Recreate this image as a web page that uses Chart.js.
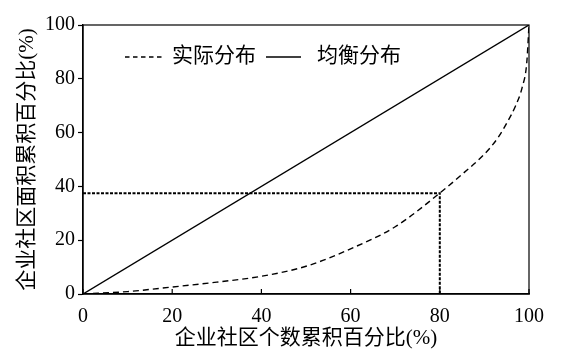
<!DOCTYPE html>
<html>
<head>
<meta charset="utf-8">
<script src="https://cdn.jsdelivr.net/npm/chart.js@4/dist/chart.umd.min.js"></script>
<style>
  html, body { margin: 0; padding: 0; background: #fff; }
  #wrap { width: 565px; height: 361px; }
</style>
</head>
<body>
<div id="wrap"><canvas id="myChart" width="565" height="361"></canvas></div>
<script>
// data
const actualX = [0, 10, 20, 30, 40, 50, 60, 70, 80, 85, 90, 93, 95, 97, 98.5, 99.5, 100];
const actualY = [0, 0.9, 2.6, 4.4, 6.6, 10.3, 16.8, 25, 37.5, 44.5, 52, 58, 63.5, 70, 77, 86, 100];
const equalX = [0, 100];
const equalY = [0, 100];
const markX = [0, 80, 80];
const markY = [37.5, 37.5, 0];
const xTicks = [0, 20, 40, 60, 80, 100];
const yTicks = [0, 20, 40, 60, 80, 100];
const legendLabels = ['实际分布', '均衡分布'];

const toPoints = (xs, ys) => xs.map((x, i) => ({ x: x, y: ys[i] }));

const serif = '"Liberation Serif", "Noto Sans CJK SC", serif';

//setup
const data = {
  datasets: [
    {
      label: legendLabels[0],
      data: toPoints(actualX, actualY),
      borderColor: '#000',
      borderWidth: 1.4,
      borderDash: [6, 4],
      cubicInterpolationMode: 'monotone',
      pointRadius: 0,
      showLine: true,
    },
    {
      label: legendLabels[1],
      data: toPoints(equalX, equalY),
      borderColor: '#000',
      borderWidth: 1.4,
      pointRadius: 0,
      showLine: true,
    },
    {
      label: 'mark',
      data: toPoints(markX, markY),
      borderColor: '#000',
      borderWidth: 2,
      borderDash: [3, 1.5],
      pointRadius: 0,
      showLine: true,
    }
  ]
};

// legend inside the plot, inward x ticks and the frame
const extras = {
  id: 'extras',
  afterDraw(chart) {
    const ctx = chart.ctx;
    const a = chart.chartArea;
    const xs = chart.scales.x;
    ctx.save();
    ctx.strokeStyle = '#000';
    ctx.lineWidth = 1.2;
    ctx.strokeRect(a.left, a.top, a.right - a.left, a.bottom - a.top);
    xTicks.forEach(v => {
      const px = xs.getPixelForValue(v);
      ctx.beginPath();
      ctx.moveTo(px, a.bottom);
      ctx.lineTo(px, a.bottom - 5);
      ctx.stroke();
    });
    const ly = 57;
    ctx.lineWidth = 1.4;
    ctx.setLineDash([4.5, 3.5]);
    ctx.beginPath();
    ctx.moveTo(125, ly);
    ctx.lineTo(162, ly);
    ctx.stroke();
    ctx.setLineDash([]);
    ctx.beginPath();
    ctx.moveTo(266, ly);
    ctx.lineTo(301, ly);
    ctx.stroke();
    ctx.fillStyle = '#000';
    ctx.font = '21px ' + serif;
    ctx.textBaseline = 'middle';
    ctx.fillText(legendLabels[0], 172, ly - 1);
    ctx.fillText(legendLabels[1], 317, ly - 1);
    ctx.restore();
  }
};

//options block
const options = {
  responsive: false,
  animation: false,
  layout: { padding: { top: 25, right: 36, left: 0, bottom: 0 } },
  plugins: {
    legend: { display: false },
    tooltip: { enabled: false }
  },
  scales: {
    x: {
      type: 'linear',
      min: 0,
      max: 100,
      afterFit: s => { s.height = 67; },
      afterBuildTicks: s => { s.ticks = xTicks.map(v => ({ value: v })); },
      border: { color: '#000', width: 1.4 },
      grid: { display: true, drawOnChartArea: false, drawTicks: false },
      ticks: { color: '#000', padding: 11, font: { family: serif, size: 20 } },
      title: {
        display: true,
        text: '企业社区个数累积百分比(%)',
        color: '#000',
        font: { family: serif, size: 21 },
        padding: { top: 0, bottom: 10 }
      }
    },
    y: {
      type: 'linear',
      min: 0,
      max: 100,
      afterFit: s => { s.width = 83; },
      afterBuildTicks: s => { s.ticks = yTicks.map(v => ({ value: v })); },
      border: { color: '#000', width: 1.4 },
      grid: { drawOnChartArea: false, color: '#000', tickLength: 5, tickWidth: 1.2 },
      ticks: { color: '#000', padding: 3, font: { family: serif, size: 20 } },
      title: {
        display: true,
        text: '企业社区面积累积百分比(%)',
        color: '#000',
        font: { family: serif, size: 21 },
        padding: { top: 15, bottom: 0 }
      }
    }
  }
};

//config
const config = {
  type: 'scatter',
  data,
  options,
  plugins: [extras]
};

//render
const myChart = new Chart(
  document.getElementById('myChart'),
  config
);
</script>
</body>
</html>
